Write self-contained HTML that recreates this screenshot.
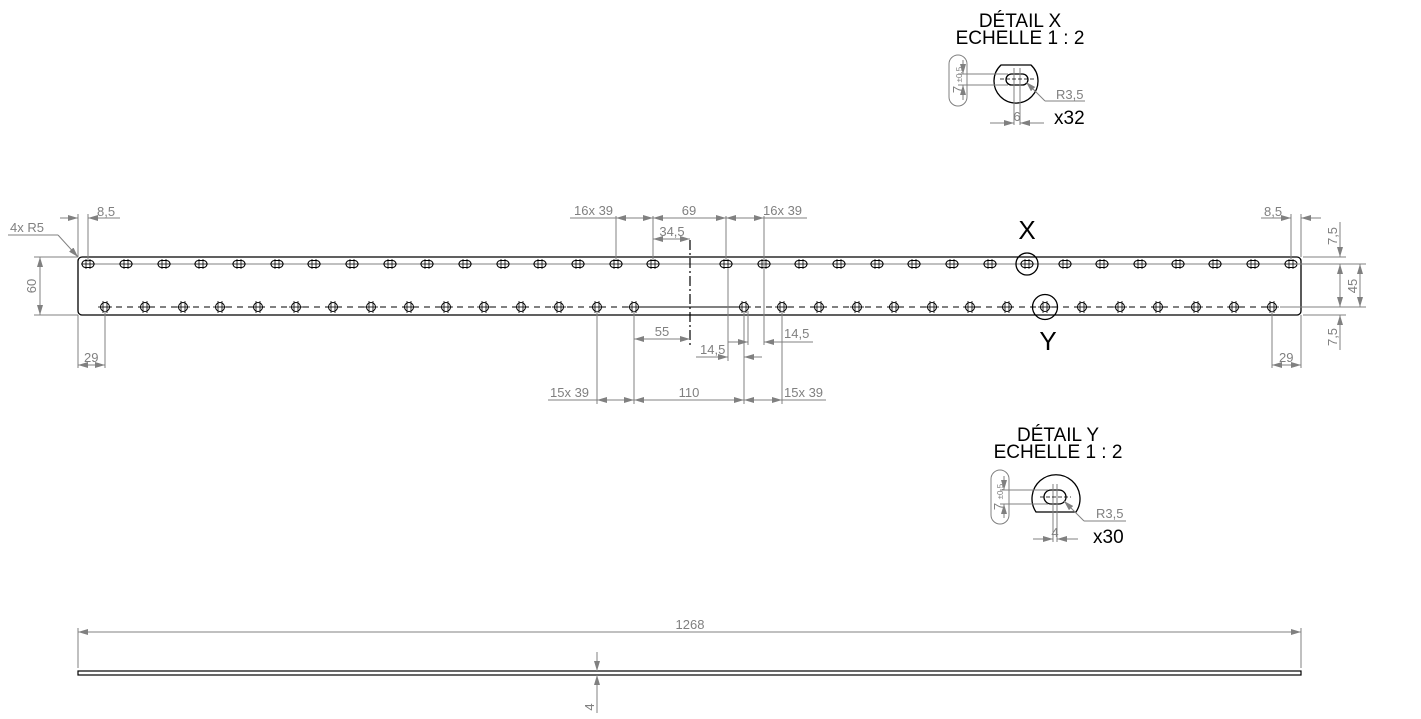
<!DOCTYPE html>
<html><head><meta charset="utf-8"><style>
html,body{margin:0;padding:0;background:#fff;width:1421px;height:719px;overflow:hidden}
svg{display:block}
.d{stroke:#808080;stroke-width:1;fill:none}
.t{fill:#808080;font-family:"Liberation Sans",sans-serif;font-size:13px}
.k{fill:#000;font-family:"Liberation Sans",sans-serif}
.o{stroke:#000;stroke-width:1.3;fill:none}
</style></head><body>
<svg width="1421" height="719" viewBox="0 0 1421 719" xmlns="http://www.w3.org/2000/svg">
<defs>
<g id="s"><rect x="-6" y="-3.5" width="12" height="7" rx="3.5" fill="#fff" stroke="#000" stroke-width="1"/><line x1="-2" y1="-5" x2="-2" y2="5" stroke="#000" stroke-width="0.8"/><line x1="2" y1="-5" x2="2" y2="5" stroke="#000" stroke-width="0.8"/><line x1="-7" y1="0" x2="7" y2="0" stroke="#000" stroke-width="0.8"/></g>
<g id="h"><circle r="4.5" fill="#fff" stroke="#000" stroke-width="1"/><line x1="-2" y1="-6" x2="-2" y2="6" stroke="#000" stroke-width="0.8"/><line x1="2" y1="-6" x2="2" y2="6" stroke="#000" stroke-width="0.8"/><line x1="-7" y1="0" x2="7" y2="0" stroke="#000" stroke-width="0.8"/></g>
<marker id="a" viewBox="0 0 10 6" refX="10" refY="3" markerWidth="10" markerHeight="6" orient="auto-start-reverse" markerUnits="userSpaceOnUse"><path d="M0,0 L10,3 L0,6 z" fill="#808080"/></marker>
</defs>

<rect x="78" y="257" width="1223" height="58" rx="4" class="o"/>
<line x1="88" y1="264" x2="1291" y2="264" stroke="#808080" stroke-width="1"/>
<line x1="105" y1="307" x2="634" y2="307" stroke="#000" stroke-width="1" stroke-dasharray="6,5"/>
<line x1="634" y1="307" x2="744" y2="307" stroke="#000" stroke-width="1"/>
<line x1="744" y1="307" x2="1272" y2="307" stroke="#000" stroke-width="1" stroke-dasharray="6,5"/>
<line x1="690" y1="240" x2="690" y2="345" stroke="#000" stroke-width="1.2" stroke-dasharray="10,3,2,3"/>

<use href="#s" x="88" y="264"/><use href="#s" x="126" y="264"/><use href="#s" x="164" y="264"/><use href="#s" x="201" y="264"/><use href="#s" x="239" y="264"/><use href="#s" x="277" y="264"/><use href="#s" x="314" y="264"/><use href="#s" x="352" y="264"/><use href="#s" x="390" y="264"/><use href="#s" x="427" y="264"/><use href="#s" x="465" y="264"/><use href="#s" x="503" y="264"/><use href="#s" x="540" y="264"/><use href="#s" x="578" y="264"/><use href="#s" x="616" y="264"/><use href="#s" x="653" y="264"/>
<use href="#s" x="726" y="264"/><use href="#s" x="764" y="264"/><use href="#s" x="801" y="264"/><use href="#s" x="839" y="264"/><use href="#s" x="877" y="264"/><use href="#s" x="914" y="264"/><use href="#s" x="952" y="264"/><use href="#s" x="990" y="264"/><use href="#s" x="1027" y="264"/><use href="#s" x="1065" y="264"/><use href="#s" x="1102" y="264"/><use href="#s" x="1140" y="264"/><use href="#s" x="1178" y="264"/><use href="#s" x="1215" y="264"/><use href="#s" x="1253" y="264"/><use href="#s" x="1291" y="264"/>
<use href="#h" x="105" y="307"/><use href="#h" x="145" y="307"/><use href="#h" x="183" y="307"/><use href="#h" x="220" y="307"/><use href="#h" x="258" y="307"/><use href="#h" x="296" y="307"/><use href="#h" x="333" y="307"/><use href="#h" x="371" y="307"/><use href="#h" x="409" y="307"/><use href="#h" x="446" y="307"/><use href="#h" x="484" y="307"/><use href="#h" x="521" y="307"/><use href="#h" x="559" y="307"/><use href="#h" x="597" y="307"/><use href="#h" x="634" y="307"/>
<use href="#h" x="744" y="307"/><use href="#h" x="782" y="307"/><use href="#h" x="819" y="307"/><use href="#h" x="857" y="307"/><use href="#h" x="894" y="307"/><use href="#h" x="932" y="307"/><use href="#h" x="970" y="307"/><use href="#h" x="1007" y="307"/><use href="#h" x="1045" y="307"/><use href="#h" x="1082" y="307"/><use href="#h" x="1120" y="307"/><use href="#h" x="1158" y="307"/><use href="#h" x="1196" y="307"/><use href="#h" x="1234" y="307"/><use href="#h" x="1272" y="307"/>

<circle cx="1027" cy="264" r="11" class="o" stroke-width="1"/>
<circle cx="1045" cy="307" r="12.5" class="o" stroke-width="1"/>
<text x="1027" y="239" class="k" font-size="26" text-anchor="middle">X</text>
<text x="1048" y="350" class="k" font-size="26" text-anchor="middle">Y</text>

<line x1="78" y1="214" x2="78" y2="257" class="d"/><line x1="88" y1="214" x2="88" y2="262" class="d"/>
<line x1="60" y1="218" x2="78" y2="218" class="d" marker-end="url(#a)"/>
<line x1="120" y1="218" x2="88" y2="218" class="d" marker-end="url(#a)"/>
<text x="97" y="216" class="t">8,5</text>
<line x1="8" y1="235" x2="58" y2="235" class="d"/><line x1="58" y1="235" x2="78" y2="257" class="d" marker-end="url(#a)"/>
<text x="10" y="232" class="t">4x R5</text>
<line x1="34" y1="257" x2="78" y2="257" class="d"/><line x1="34" y1="315" x2="78" y2="315" class="d"/>
<line x1="40" y1="257" x2="40" y2="315" class="d" marker-start="url(#a)" marker-end="url(#a)"/>
<text transform="translate(36,286) rotate(-90)" class="t" text-anchor="middle">60</text>
<line x1="78" y1="315" x2="78" y2="368" class="d"/><line x1="105" y1="311" x2="105" y2="368" class="d"/>
<line x1="78" y1="365" x2="105" y2="365" class="d" marker-start="url(#a)" marker-end="url(#a)"/>
<text x="84" y="362" class="t">29</text>

<line x1="616" y1="216" x2="616" y2="260" class="d"/><line x1="653" y1="216" x2="653" y2="260" class="d"/>
<line x1="726" y1="216" x2="726" y2="260" class="d"/><line x1="764" y1="216" x2="764" y2="345" class="d"/>
<line x1="570" y1="218" x2="616" y2="218" class="d"/>
<line x1="616" y1="218" x2="653" y2="218" class="d" marker-start="url(#a)" marker-end="url(#a)"/>
<line x1="653" y1="218" x2="726" y2="218" class="d" marker-start="url(#a)" marker-end="url(#a)"/>
<line x1="726" y1="218" x2="764" y2="218" class="d" marker-start="url(#a)" marker-end="url(#a)"/>
<line x1="764" y1="218" x2="807" y2="218" class="d"/>
<text x="574" y="215" class="t">16x 39</text>
<text x="689" y="215" class="t" text-anchor="middle">69</text>
<text x="763" y="215" class="t">16x 39</text>
<line x1="653" y1="239" x2="690" y2="239" class="d" marker-start="url(#a)" marker-end="url(#a)"/>
<text x="672" y="236" class="t" text-anchor="middle">34,5</text>

<line x1="597" y1="311" x2="597" y2="404" class="d"/><line x1="634" y1="311" x2="634" y2="404" class="d"/>
<line x1="744" y1="311" x2="744" y2="404" class="d"/><line x1="782" y1="311" x2="782" y2="404" class="d"/>
<line x1="634" y1="339" x2="690" y2="339" class="d" marker-start="url(#a)" marker-end="url(#a)"/>
<text x="662" y="336" class="t" text-anchor="middle">55</text>
<line x1="548" y1="400" x2="597" y2="400" class="d"/>
<line x1="597" y1="400" x2="634" y2="400" class="d" marker-start="url(#a)" marker-end="url(#a)"/>
<line x1="634" y1="400" x2="744" y2="400" class="d" marker-start="url(#a)" marker-end="url(#a)"/>
<line x1="744" y1="400" x2="782" y2="400" class="d" marker-start="url(#a)" marker-end="url(#a)"/>
<line x1="782" y1="400" x2="826" y2="400" class="d"/>
<text x="550" y="397" class="t">15x 39</text>
<text x="689" y="397" class="t" text-anchor="middle">110</text>
<text x="784" y="397" class="t">15x 39</text>
<line x1="728" y1="268" x2="728" y2="361" class="d"/><line x1="748" y1="311" x2="748" y2="345" class="d"/>
<line x1="728" y1="342" x2="748" y2="342" class="d" marker-end="url(#a)"/>
<line x1="813" y1="342" x2="764" y2="342" class="d" marker-end="url(#a)"/>
<text x="784" y="338" class="t">14,5</text>
<line x1="696" y1="357" x2="728" y2="357" class="d" marker-end="url(#a)"/>
<line x1="762" y1="357" x2="744" y2="357" class="d" marker-end="url(#a)"/>
<text x="700" y="354" class="t">14,5</text>

<line x1="1291" y1="214" x2="1291" y2="260" class="d"/><line x1="1301" y1="214" x2="1301" y2="257" class="d"/>
<line x1="1261" y1="218" x2="1291" y2="218" class="d" marker-end="url(#a)"/>
<line x1="1321" y1="218" x2="1301" y2="218" class="d" marker-end="url(#a)"/>
<text x="1264" y="216" class="t">8,5</text>
<line x1="1303" y1="257" x2="1346" y2="257" class="d"/><line x1="1296" y1="264" x2="1366" y2="264" class="d"/>
<line x1="1280" y1="307" x2="1366" y2="307" class="d"/><line x1="1303" y1="315" x2="1346" y2="315" class="d"/>
<line x1="1340" y1="222" x2="1340" y2="257" class="d" marker-end="url(#a)"/>
<line x1="1340" y1="264" x2="1340" y2="307" class="d" marker-start="url(#a)" marker-end="url(#a)"/>
<line x1="1340" y1="350" x2="1340" y2="315" class="d" marker-end="url(#a)"/>
<line x1="1360" y1="264" x2="1360" y2="307" class="d" marker-start="url(#a)" marker-end="url(#a)"/>
<text transform="translate(1337,236) rotate(-90)" class="t" text-anchor="middle">7,5</text>
<text transform="translate(1357,286) rotate(-90)" class="t" text-anchor="middle">45</text>
<text transform="translate(1337,337) rotate(-90)" class="t" text-anchor="middle">7,5</text>
<line x1="1272" y1="311" x2="1272" y2="368" class="d"/><line x1="1301" y1="315" x2="1301" y2="368" class="d"/>
<line x1="1272" y1="365" x2="1301" y2="365" class="d" marker-start="url(#a)" marker-end="url(#a)"/>
<text x="1279" y="362" class="t">29</text>

<!-- Detail X -->
<text x="1020" y="27" class="k" font-size="19" text-anchor="middle">DÉTAIL X</text>
<text x="1020" y="44" class="k" font-size="19" text-anchor="middle">ECHELLE 1 : 2</text>
<path d="M1001,65 A22,22 0 1 0 1031,65 Z" class="o" stroke-width="1"/>
<rect x="1006" y="74" width="22" height="11" rx="5.5" class="o" stroke-width="1"/>
<line x1="1014" y1="68" x2="1014" y2="125" class="d"/><line x1="1020" y1="68" x2="1020" y2="125" class="d"/>
<line x1="1000" y1="79" x2="1034" y2="79" stroke="#000" stroke-width="0.8" stroke-dasharray="4,2"/>
<line x1="958" y1="74" x2="1008" y2="74" class="d"/><line x1="958" y1="85" x2="1008" y2="85" class="d"/>
<rect x="949" y="55" width="18" height="51" rx="9" class="d" stroke="#aaa"/>
<line x1="963" y1="60" x2="963" y2="74" class="d" marker-end="url(#a)"/><line x1="963" y1="100" x2="963" y2="85" class="d" marker-end="url(#a)"/>
<text transform="translate(962,80) rotate(-90)" class="t" text-anchor="middle" font-size="12">7 <tspan font-size="8">±0,5</tspan></text>
<line x1="1085" y1="101" x2="1045" y2="101" class="d"/><line x1="1045" y1="101" x2="1026" y2="82" class="d" marker-end="url(#a)"/>
<text x="1056" y="99" class="t">R3,5</text>
<line x1="990" y1="123" x2="1014" y2="123" class="d" marker-end="url(#a)"/><line x1="1044" y1="123" x2="1020" y2="123" class="d" marker-end="url(#a)"/>
<text x="1017" y="121" class="t" text-anchor="middle">6</text>
<text x="1054" y="124" class="k" font-size="19">x32</text>

<!-- Detail Y -->
<text x="1058" y="441" class="k" font-size="19" text-anchor="middle">DÉTAIL Y</text>
<text x="1058" y="458" class="k" font-size="19" text-anchor="middle">ECHELLE 1 : 2</text>
<path d="M1036,512 A24,24 0 1 1 1076,512 Z" class="o" stroke-width="1"/>
<rect x="1044" y="490" width="22" height="14" rx="7" class="o" stroke-width="1"/>
<line x1="1053" y1="484" x2="1053" y2="542" class="d"/><line x1="1057" y1="484" x2="1057" y2="542" class="d"/>
<line x1="1040" y1="497" x2="1071" y2="497" stroke="#000" stroke-width="0.8" stroke-dasharray="4,2"/>
<line x1="1000" y1="490" x2="1048" y2="490" class="d"/><line x1="1000" y1="504" x2="1048" y2="504" class="d"/>
<rect x="991" y="470" width="18" height="54" rx="9" class="d" stroke="#aaa"/>
<line x1="1004" y1="476" x2="1004" y2="490" class="d" marker-end="url(#a)"/><line x1="1004" y1="518" x2="1004" y2="504" class="d" marker-end="url(#a)"/>
<text transform="translate(1003,497) rotate(-90)" class="t" text-anchor="middle" font-size="12">7 <tspan font-size="8">±0,5</tspan></text>
<line x1="1126" y1="521" x2="1084" y2="521" class="d"/><line x1="1084" y1="521" x2="1064" y2="501" class="d" marker-end="url(#a)"/>
<text x="1096" y="518" class="t">R3,5</text>
<line x1="1033" y1="539" x2="1053" y2="539" class="d" marker-end="url(#a)"/><line x1="1078" y1="539" x2="1057" y2="539" class="d" marker-end="url(#a)"/>
<text x="1055" y="537" class="t" text-anchor="middle">4</text>
<text x="1093" y="543" class="k" font-size="19">x30</text>

<!-- bottom view -->
<line x1="78" y1="628" x2="78" y2="668" class="d"/><line x1="1301" y1="628" x2="1301" y2="668" class="d"/>
<line x1="78" y1="632" x2="1301" y2="632" class="d" marker-start="url(#a)" marker-end="url(#a)"/>
<text x="690" y="629" class="t" text-anchor="middle">1268</text>
<rect x="78" y="671" width="1223" height="4" stroke="#000" stroke-width="1.2" fill="#fff"/>
<line x1="597" y1="652" x2="597" y2="671" class="d" marker-end="url(#a)"/>
<line x1="597" y1="713" x2="597" y2="675" class="d" marker-end="url(#a)"/>
<text transform="translate(594,707) rotate(-90)" class="t" text-anchor="middle">4</text>
</svg>
</body></html>
